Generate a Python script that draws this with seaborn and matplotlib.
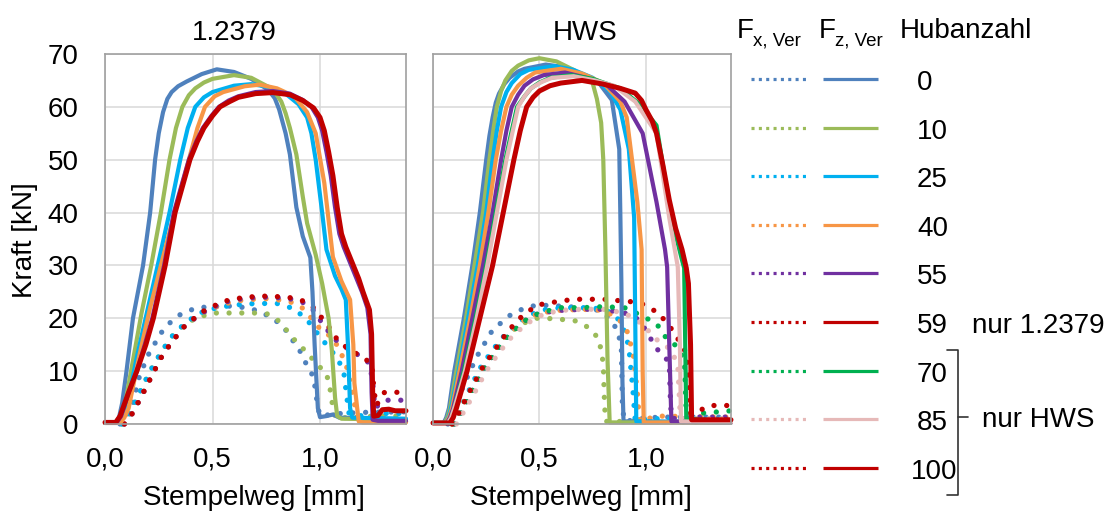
import numpy as np
import pandas as pd
import seaborn as sns
import matplotlib.pyplot as plt

# ---------------- data ----------------
HUBANZAHL = ["0", "10", "25", "40", "55", "59", "70", "85", "100"]
COLORS = ["#4F81BD", "#9BBB59", "#00B0F0", "#F79646", "#7030A0",
          "#C00000", "#00B050", "#E6B9B8", "#C00000"]
X_TICKS = [0.0, 0.5, 1.0]
X_TICK_LABELS = ["0,0", "0,5", "1,0"]
Y_TICKS = [0, 10, 20, 30, 40, 50, 60, 70]

# 1.2379, F_z,Ver (solid)   points: (Stempelweg mm, Kraft kN)
A_FZ_0 = [(0, 0.3), (0.05, 0.3), (0.065, 1.2), (0.08, 4), (0.10, 10), (0.13, 20), (0.177, 30),
          (0.21, 40), (0.233, 50), (0.25, 55), (0.27, 59), (0.29, 61.5), (0.31, 62.8),
          (0.34, 63.9), (0.38, 64.8), (0.45, 66.2), (0.52, 67.1), (0.6, 66.6), (0.68, 65.3),
          (0.76, 63.2), (0.79, 61.6), (0.81, 59.5), (0.84, 55), (0.86, 51), (0.89, 41),
          (0.92, 35.5), (0.955, 31.5), (0.965, 25), (0.975, 15), (0.99, 3), (1.0, 1.3),
          (1.03, 1.5), (1.06, 1.8), (1.09, 1.2), (1.4, 0.9)]
A_FZ_10 = [(0, 0.2), (0.06, 0.2), (0.075, 1.2), (0.09, 3), (0.13, 12), (0.17, 21), (0.215, 30),
           (0.26, 40), (0.30, 50), (0.33, 56), (0.36, 60), (0.39, 62.2), (0.42, 63.5),
           (0.46, 64.6), (0.5, 65.3), (0.6, 66), (0.68, 65.5), (0.75, 64), (0.79, 62.8),
           (0.82, 61), (0.84, 58.8), (0.86, 56), (0.89, 51), (0.92, 43), (0.94, 38), (0.98, 32),
           (1.01, 26.6), (1.04, 20), (1.055, 14), (1.07, 5), (1.08, 1.5), (1.1, 1.0), (1.4, 0.8)]
A_FZ_25 = [(0, 0.2), (0.065, 0.2), (0.08, 1.2), (0.10, 3), (0.15, 13), (0.20, 22), (0.245, 30),
           (0.30, 40), (0.35, 50), (0.385, 56), (0.42, 60), (0.46, 61.8), (0.5, 62.8),
           (0.6, 64), (0.68, 64.3), (0.76, 63.8), (0.84, 62.5), (0.9, 60.5), (0.94, 58),
           (0.96, 55), (0.98, 50), (1.01, 40), (1.03, 33), (1.07, 28), (1.10, 25.5),
           (1.12, 23.5), (1.13, 15), (1.14, 3), (1.15, 1.2), (1.4, 1.0)]
A_FZ_40 = [(0, 0.2), (0.07, 0.2), (0.09, 1.2), (0.11, 3), (0.16, 13), (0.21, 22), (0.26, 30),
           (0.33, 41), (0.39, 50), (0.43, 56), (0.465, 60), (0.51, 62), (0.55, 62.8),
           (0.65, 63.9), (0.72, 64.2), (0.8, 63.5), (0.88, 62), (0.94, 59), (0.98, 55),
           (1.02, 45.6), (1.06, 31.6), (1.10, 27), (1.14, 23.5), (1.155, 15), (1.16, 7.7),
           (1.18, 0.5), (1.2, 0.3), (1.4, 0.3)]
A_FZ_55 = [(0, 0.3), (0.055, 0.3), (0.075, 1.5), (0.11, 6), (0.148, 10), (0.185, 15), (0.22, 20),
           (0.275, 30), (0.32, 40), (0.39, 50), (0.425, 53.5), (0.455, 56), (0.495, 58.3),
           (0.53, 60), (0.575, 61.2), (0.62, 62), (0.70, 62.8), (0.78, 63), (0.86, 62.5),
           (0.92, 61.3), (0.96, 60), (0.99, 58), (1.01, 55.5), (1.03, 51.5), (1.05, 47),
           (1.07, 41), (1.09, 36), (1.11, 33.5), (1.14, 30.5), (1.17, 27.5), (1.195, 25),
           (1.22, 22), (1.235, 17), (1.24, 6), (1.245, 0.8), (1.27, 0.6), (1.4, 0.6)]
A_FZ_59 = [(0, 0.3), (0.05, 0.3), (0.07, 1.5), (0.11, 6), (0.148, 10), (0.19, 15), (0.225, 20),
           (0.28, 30), (0.326, 40), (0.395, 50), (0.43, 53.5), (0.46, 56), (0.5, 58.3),
           (0.535, 60), (0.58, 61), (0.62, 61.8), (0.70, 62.5), (0.78, 62.7), (0.86, 62.3),
           (0.92, 61.2), (0.97, 59.8), (1.0, 58), (1.02, 55.5), (1.04, 51.5), (1.06, 47),
           (1.08, 41), (1.10, 36), (1.12, 33.5), (1.15, 30.5), (1.18, 27.5), (1.2, 25),
           (1.23, 21.6), (1.24, 17), (1.245, 6), (1.25, 1.5), (1.27, 1.6), (1.29, 2.7),
           (1.32, 2.8), (1.35, 2.5), (1.4, 2.5)]

# 1.2379, F_x,Ver (dotted)
A_FX_0 = [(0.07, 0), (0.10, 1.5), (0.13, 4), (0.16, 9), (0.20, 13), (0.26, 17.2), (0.31, 19.5),
          (0.36, 21), (0.43, 22), (0.50, 22.2), (0.58, 22.3), (0.66, 22), (0.72, 21.3),
          (0.78, 20), (0.83, 18.4), (0.87, 16), (0.91, 13.6), (0.94, 11), (0.97, 8.9),
          (0.99, 3.2), (1.0, 1.5), (1.05, 1.8), (1.1, 2.0), (1.2, 2.2), (1.4, 2.3)]
A_FX_10 = [(0.08, 0), (0.11, 1.5), (0.15, 5), (0.21, 10), (0.26, 13.5), (0.31, 16.5), (0.36, 18.5),
           (0.42, 20), (0.5, 21), (0.6, 21), (0.7, 21), (0.76, 20.8), (0.8, 19.8), (0.85, 17.5),
           (0.9, 15), (0.94, 13.6), (0.98, 11.5), (1.03, 9.6), (1.05, 6), (1.06, 3), (1.07, 1.2),
           (1.15, 1.2), (1.25, 1.5), (1.4, 1.5)]
A_FX_25 = [(0.08, 0), (0.11, 1.5), (0.15, 5), (0.21, 10), (0.26, 13.5), (0.31, 16.5), (0.37, 19),
           (0.44, 21), (0.52, 22), (0.6, 22.5), (0.7, 22.8), (0.8, 22.8), (0.88, 21.8),
           (0.94, 19.7), (1.0, 16.5), (1.05, 14), (1.08, 12.5), (1.11, 10), (1.125, 5),
           (1.135, 2), (1.2, 1.5), (1.3, 2), (1.4, 2)]
A_FX_40 = [(0.09, 0), (0.12, 1.5), (0.16, 4.5), (0.21, 8.5), (0.26, 12.5), (0.31, 15.5),
           (0.37, 18.5), (0.45, 21), (0.55, 22.7), (0.65, 23.5), (0.75, 23.7), (0.85, 23.3),
           (0.91, 22.3), (0.96, 20), (1.01, 17.5), (1.06, 16.4), (1.09, 14), (1.12, 11.5),
           (1.14, 8), (1.16, 4), (1.17, 1), (1.2, 0.5), (1.4, 0.5)]
A_FX_55 = [(0.09, 0), (0.12, 1.5), (0.16, 4.5), (0.21, 8.5), (0.26, 12.5), (0.31, 15.5),
           (0.37, 18.5), (0.45, 21), (0.55, 23), (0.65, 23.8), (0.75, 24), (0.85, 23.8),
           (0.92, 23), (0.97, 21.5), (1.02, 18.5), (1.07, 16), (1.12, 14.5), (1.18, 13),
           (1.23, 11.5), (1.245, 8), (1.255, 3), (1.3, 4.5), (1.4, 4.5)]
A_FX_59 = [(0.09, 0), (0.12, 1.5), (0.16, 4.5), (0.21, 8.5), (0.26, 12.5), (0.31, 15.5),
           (0.37, 18.5), (0.45, 21.2), (0.55, 23.2), (0.65, 24), (0.75, 24.2), (0.85, 24),
           (0.92, 23.3), (0.97, 22), (1.03, 19), (1.08, 16), (1.12, 14.6), (1.2, 12.5),
           (1.24, 11.5), (1.25, 7), (1.26, 3.5), (1.28, 4.5), (1.3, 6), (1.4, 6)]

# HWS, F_z,Ver (solid)
B_FZ_0 = [(0, 0.2), (0.05, 0.2), (0.062, 1.2), (0.075, 3), (0.10, 10), (0.145, 20), (0.185, 30),
          (0.22, 40), (0.25, 50), (0.265, 54.5), (0.28, 58), (0.295, 60.8), (0.31, 62.5),
          (0.335, 64.3), (0.36, 65.5), (0.4, 66.7), (0.43, 67.2), (0.53, 68), (0.62, 67.5),
          (0.7, 66), (0.78, 64.5), (0.84, 61.3), (0.875, 52), (0.88, 40), (0.885, 26.6),
          (0.89, 8), (0.895, 0.5), (1.4, 0.3)]
B_FZ_10 = [(0, 0.2), (0.055, 0.2), (0.067, 1.2), (0.08, 3), (0.11, 10), (0.155, 20), (0.195, 30),
           (0.235, 40), (0.265, 50), (0.285, 56), (0.30, 60), (0.32, 63), (0.34, 65),
           (0.37, 66.8), (0.4, 67.8), (0.45, 68.8), (0.5, 69.2), (0.58, 68.6), (0.66, 67),
           (0.71, 65.8), (0.75, 64.5), (0.77, 61.5), (0.79, 57), (0.80, 50), (0.81, 33),
           (0.82, 12), (0.83, 0.3), (1.4, 0.3)]
B_FZ_25 = [(0, 0.2), (0.06, 0.2), (0.072, 1.2), (0.085, 3), (0.12, 10), (0.165, 20), (0.21, 30),
           (0.25, 40), (0.28, 50), (0.30, 55.5), (0.32, 60), (0.345, 62.8), (0.37, 64.5),
           (0.41, 66.2), (0.45, 67), (0.57, 67.7), (0.66, 67), (0.75, 65.5), (0.83, 63),
           (0.88, 59.5), (0.92, 52), (0.945, 39), (0.95, 20), (0.955, 0.5), (1.4, 0.3)]
B_FZ_40 = [(0, 0.2), (0.06, 0.2), (0.075, 1.2), (0.09, 3), (0.125, 10), (0.175, 20), (0.22, 30),
           (0.26, 40), (0.295, 50), (0.32, 55.5), (0.345, 60), (0.37, 62.3), (0.4, 64),
           (0.44, 65.5), (0.48, 66.5), (0.6, 67.2), (0.7, 66.3), (0.8, 64.5), (0.88, 61),
           (0.91, 58), (0.96, 42), (0.98, 33), (0.985, 10), (0.99, 0.3), (1.4, 0.3)]
B_FZ_55 = [(0, 0.2), (0.065, 0.2), (0.08, 1.2), (0.095, 3), (0.135, 10), (0.185, 20), (0.235, 30),
           (0.28, 40), (0.32, 50), (0.345, 55.5), (0.37, 60), (0.4, 62.3), (0.43, 64),
           (0.47, 65.2), (0.52, 66), (0.62, 66.5), (0.72, 65.5), (0.82, 64), (0.9, 61),
           (0.985, 55), (1.05, 42), (1.09, 33), (1.10, 29.7), (1.11, 15), (1.12, 0.5), (1.4, 0.3)]
B_FZ_70 = [(0, 0.2), (0.07, 0.2), (0.085, 1.2), (0.10, 3), (0.145, 10), (0.20, 20), (0.25, 30),
           (0.295, 40), (0.34, 50), (0.37, 55.5), (0.395, 60), (0.43, 62), (0.46, 63.5),
           (0.5, 64.6), (0.55, 65.5), (0.65, 66), (0.75, 65.3), (0.88, 63.5), (0.97, 60.5),
           (1.05, 56.5), (1.12, 39), (1.17, 31), (1.18, 29.5), (1.185, 15), (1.19, 1), (1.4, 0.5)]
B_FZ_85 = [(0, 0.2), (0.07, 0.2), (0.085, 1.2), (0.10, 3), (0.15, 10), (0.205, 20), (0.255, 30),
           (0.30, 40), (0.345, 50), (0.375, 55.5), (0.40, 60), (0.43, 62), (0.46, 63.5),
           (0.51, 64.7), (0.56, 65.5), (0.66, 65.8), (0.76, 65), (0.85, 64), (0.95, 61),
           (1.05, 55), (1.11, 39), (1.15, 29.7), (1.16, 15), (1.165, 0.5), (1.4, 0.3)]
B_FZ_100 = [(0, 0.2), (0.08, 0.2), (0.095, 1.2), (0.11, 3), (0.16, 10), (0.22, 20), (0.28, 30),
            (0.33, 40), (0.38, 50), (0.41, 55.5), (0.44, 60), (0.47, 61.8), (0.5, 63),
            (0.55, 64), (0.6, 64.5), (0.7, 65), (0.8, 64.3), (0.88, 63.5), (0.95, 62.6),
            (0.98, 61.2), (1.0, 59.5), (1.03, 57.3), (1.05, 55), (1.08, 49), (1.11, 42.4),
            (1.14, 37), (1.17, 33), (1.19, 29.5), (1.20, 26.6), (1.21, 15), (1.215, 0.8),
            (1.4, 0.8)]

# HWS, F_x,Ver (dotted)
B_FX_0 = [(0.07, 0), (0.10, 2), (0.14, 7), (0.205, 12.7), (0.28, 17.8), (0.375, 21), (0.45, 22.2),
          (0.5, 22.5), (0.6, 22.3), (0.7, 22), (0.78, 21.5), (0.83, 20), (0.87, 17.5),
          (0.885, 14), (0.89, 3), (0.9, 0.5), (0.95, 0.8), (1.0, 1.2), (1.1, 1.3), (1.4, 1.3)]
B_FX_10 = [(0.09, 0), (0.12, 2), (0.16, 5.5), (0.22, 10), (0.28, 13.5), (0.34, 16.5),
           (0.41, 18.8), (0.48, 20), (0.53, 20), (0.6, 19.8), (0.67, 19.5), (0.72, 18.5),
           (0.76, 17), (0.78, 16), (0.80, 11.5), (0.805, 5), (0.81, 0.5), (1.4, 0.3)]
B_FX_25 = [(0.09, 0), (0.12, 2), (0.165, 6), (0.22, 10.5), (0.28, 14), (0.34, 17), (0.41, 19.5),
           (0.5, 21.5), (0.6, 22), (0.7, 22), (0.8, 21.8), (0.86, 20.5), (0.9, 17.5),
           (0.92, 14.6), (0.94, 6), (0.95, 0.5), (1.0, 1), (1.4, 1)]
B_FX_40 = [(0.09, 0), (0.12, 2), (0.17, 6), (0.23, 10.5), (0.29, 14), (0.35, 17), (0.42, 19.5),
           (0.5, 21), (0.6, 21.5), (0.7, 21.7), (0.8, 21.5), (0.87, 20), (0.91, 17.8),
           (0.94, 13.4), (0.96, 6), (0.97, 0.5), (1.05, 1.5), (1.4, 1.3)]
B_FX_55 = [(0.10, 0), (0.13, 2), (0.18, 6), (0.24, 10.5), (0.30, 14), (0.36, 17), (0.43, 19.5),
           (0.5, 21), (0.6, 21.5), (0.7, 21.7), (0.8, 21.7), (0.9, 21), (0.97, 19.7),
           (1.01, 17), (1.05, 14.3), (1.11, 11.7), (1.115, 5), (1.12, 1), (1.2, 1.3), (1.4, 1.3)]
B_FX_70 = [(0.10, 0), (0.13, 2), (0.18, 6), (0.24, 10.5), (0.30, 14), (0.36, 17), (0.43, 19.5),
           (0.5, 21), (0.6, 22), (0.7, 22), (0.8, 22.2), (0.9, 22), (0.98, 20.5), (1.05, 19),
           (1.10, 16), (1.15, 14.6), (1.18, 12), (1.19, 2), (1.25, 2), (1.4, 2.5)]
B_FX_85 = [(0.11, 0), (0.14, 2), (0.19, 5.5), (0.25, 10), (0.31, 13.5), (0.37, 16.5), (0.44, 19),
           (0.52, 20.8), (0.6, 21.5), (0.7, 21.7), (0.8, 21.7), (0.9, 21), (0.98, 19),
           (1.05, 16), (1.12, 14), (1.15, 11), (1.16, 3), (1.17, 1), (1.25, 1), (1.4, 1)]
B_FX_100 = [(0.09, 0), (0.12, 2), (0.17, 6), (0.23, 10.5), (0.29, 14), (0.35, 17.5), (0.42, 20.5),
            (0.49, 22.5), (0.56, 23), (0.66, 23.6), (0.8, 23.6), (0.97, 23), (1.06, 21),
            (1.12, 18), (1.16, 15.5), (1.19, 13.4), (1.205, 7), (1.21, 2), (1.25, 2.5),
            (1.3, 3.5), (1.4, 3.5)]

# which Hubanzahl belongs to which panel: (legend index, F_x curve, F_z curve)
PANEL_1_2379 = [(0, A_FX_0, A_FZ_0), (1, A_FX_10, A_FZ_10), (2, A_FX_25, A_FZ_25),
                (3, A_FX_40, A_FZ_40), (4, A_FX_55, A_FZ_55), (5, A_FX_59, A_FZ_59)]
PANEL_HWS = [(0, B_FX_0, B_FZ_0), (1, B_FX_10, B_FZ_10), (2, B_FX_25, B_FZ_25),
             (3, B_FX_40, B_FZ_40), (4, B_FX_55, B_FZ_55), (6, B_FX_70, B_FZ_70),
             (7, B_FX_85, B_FZ_85), (8, B_FX_100, B_FZ_100)]

# ---------------- figure ----------------
sns.set_style("white")
plt.rcParams['font.family'] = ['Liberation Sans', 'DejaVu Sans']
plt.rcParams['text.color'] = 'black'
plt.rcParams['axes.labelcolor'] = 'black'

W, H = 1110, 513
fig = plt.figure(figsize=(W / 100, H / 100), dpi=100)
ax1 = fig.add_axes([105 / W, 1 - 424 / H, 301 / W, 370 / H])
ax2 = fig.add_axes([433 / W, 1 - 424 / H, 298 / W, 370 / H])


def draw_panel(ax, panel):
    # dotted F_x first, solid F_z on top
    for idx, fx, fz in panel:
        df = pd.DataFrame(fx, columns=["x", "y"])
        sns.lineplot(data=df, x="x", y="y", ax=ax, color=COLORS[idx],
                     sort=False, estimator=None, clip_on=False)
        ln = ax.lines[-1]
        ln.set_linewidth(3.8)
        ln.set_linestyle((0, (0.01, 2.4)))
        ln.set_dash_capstyle("round")
    for idx, fx, fz in panel:
        df = pd.DataFrame(fz, columns=["x", "y"])
        lw = 3.6 if COLORS[idx] == "#C00000" else 3.0
        sns.lineplot(data=df, x="x", y="y", ax=ax, color=COLORS[idx], lw=lw,
                     sort=False, estimator=None, clip_on=False)

    ax.set_xlim(0, 1.4)
    ax.set_ylim(0, 70)
    ax.set_xticks(X_TICKS)
    ax.set_xticklabels(X_TICK_LABELS)
    ax.set_yticks(Y_TICKS)
    ax.grid(True, color="#D9D9D9", lw=1.1)
    ax.set_axisbelow(True)
    for s in ax.spines.values():
        s.set_color("#A0A0A0")
        s.set_linewidth(1.2)
    ax.tick_params(axis="both", direction="out", length=4, width=1.1, color="#A0A0A0",
                   labelsize=20, labelcolor="black")
    ax.tick_params(axis="x", pad=12)
    ax.tick_params(axis="y", pad=15)
    ax.set_xlabel("")
    ax.set_ylabel("")


draw_panel(ax1, PANEL_1_2379)
draw_panel(ax2, PANEL_HWS)
ax2.tick_params(axis="y", labelleft=False)

# overlay in pixel coordinates for titles, labels and the legend
lax = fig.add_axes([0, 0, 1, 1])
lax.set_xlim(0, W)
lax.set_ylim(H, 0)
lax.axis("off")
lax.patch.set_alpha(0)

fs = 20
lax.text(192, 40, "1.2379", fontsize=fs, ha="left", va="baseline")
lax.text(553, 40, "HWS", fontsize=fs, ha="left", va="baseline")
lax.text(25, 240, "Kraft [kN]", fontsize=fs, rotation=90, ha="center", va="center")
lax.text(254, 505, "Stempelweg [mm]", fontsize=fs, ha="center", va="baseline")
lax.text(581, 505, "Stempelweg [mm]", fontsize=fs, ha="center", va="baseline")

# legend header
lax.text(737, 38, "F", fontsize=fs, ha="left", va="baseline")
lax.text(753, 45, "x, Ver", fontsize=13.5, ha="left", va="baseline")
lax.text(819, 38, "F", fontsize=fs, ha="left", va="baseline")
lax.text(835, 45, "z, Ver", fontsize=13.5, ha="left", va="baseline")
lax.text(900, 38, "Hubanzahl", fontsize=fs, ha="left", va="baseline")

# legend rows
for i, lab in enumerate(HUBANZAHL):
    yy = 79 + i * 48.6
    lax.plot([751, 806], [yy, yy], color=COLORS[i], lw=2.3, ls=(0, (0.95, 1.35)),
             dash_capstyle="butt")
    lax.plot([823, 878], [yy, yy], color=COLORS[i], lw=2.3, solid_capstyle="butt")
    lax.text(911 if lab == "100" else 917, yy + 11, lab, fontsize=fs, ha="left", va="baseline")

lax.text(972, 79 + 5 * 48.6 + 11, "nur 1.2379", fontsize=fs, ha="left", va="baseline")

# bracket for HWS-only rows
lax.plot([947, 958, 958, 947], [350, 350, 495, 495], color="#333333", lw=1.2)
lax.plot([958, 968], [417, 417], color="#333333", lw=1.2)
lax.text(982, 427, "nur HWS", fontsize=fs, ha="left", va="baseline")

fig.savefig("out.png", dpi=100)
